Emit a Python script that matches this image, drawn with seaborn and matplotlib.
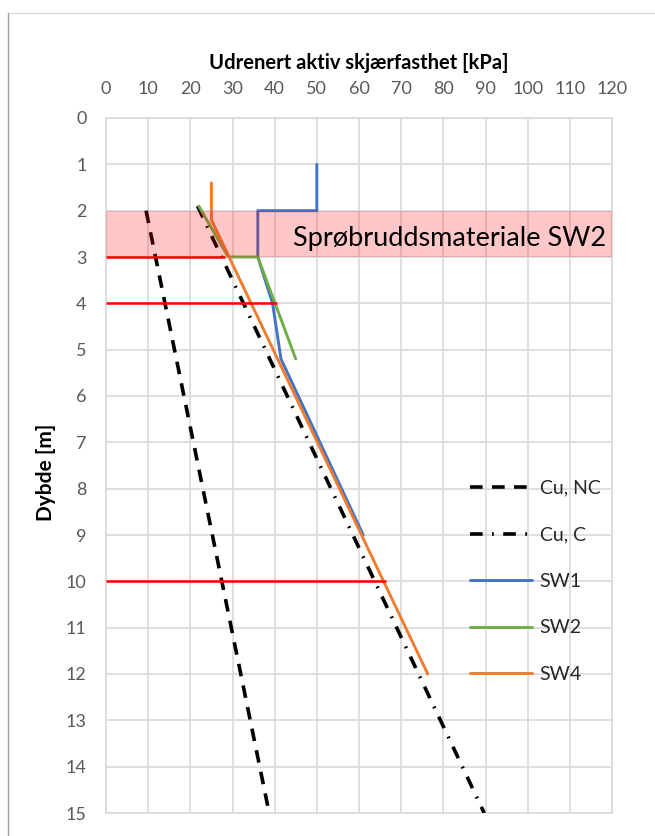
import matplotlib
matplotlib.use("Agg")
import matplotlib.pyplot as plt
import seaborn as sns
import pandas as pd
from matplotlib.lines import Line2D

# ---- data ----
nc_x = [9.5, 38.7]
nc_y = [2.0, 15.0]
c_x = [21.7, 89.7]
c_y = [1.9, 15.0]
sw1_x = [50, 50, 36, 36, 39.5, 41.5, 61]
sw1_y = [1.0, 2.0, 2.0, 3.0, 4.0, 5.2, 9.0]
sw2_x = [22, 29, 36, 45]
sw2_y = [1.9, 3.0, 3.0, 5.2]
sw4_x = [25, 25, 76.3]
sw4_y = [1.4, 2.2, 12.0]
red_depths = [3.0, 4.0, 10.0]
red_ends = [28.3, 40.5, 66.3]
band_top, band_bottom = 2.0, 3.0
band_label = "Sprøbruddsmateriale SW2"
x_ticks = list(range(0, 121, 10))
y_ticks = list(range(0, 16))

sns.set_theme(style="white")
plt.rcParams['font.family'] = ['Lato', 'DejaVu Sans']

fig = plt.figure(figsize=(6.55, 8.36), dpi=100)
ax = fig.add_axes([106/655, 1-813/836, (612-106)/655, (813-118)/836])

# band (semi-transparent overlay above the curves)
ax.axhspan(band_top, band_bottom, color="#ff0000", alpha=0.22, zorder=5, lw=0)
ax.text(44.3, 2.6, band_label, fontsize=19.5, va="center", ha="left", color="black", zorder=7)

# red lines
for d, e in zip(red_depths, red_ends):
    ax.plot([0, e], [d, d], color="#ff0000", lw=1.8, zorder=6, solid_capstyle="butt")

def draw(xs, ys, label, color, lw, dashes=None):
    df = pd.DataFrame({"x": xs, "y": ys})
    sns.lineplot(data=df, x="x", y="y", sort=False, estimator=None, ax=ax,
                 color=color, lw=lw, label=label, zorder=4)
    line = ax.get_lines()[-1]
    if dashes is not None:
        line.set_dashes(dashes)
    return line

l1 = draw(nc_x, nc_y, "Cu, NC", "black", 2.6, (3.5, 2.6))
l2 = draw(c_x, c_y, "Cu, C", "black", 2.6, (3.5, 2.6, 0.5, 2.6))
l3 = draw(sw1_x, sw1_y, "SW1", "#4472c4", 2.1)
l4 = draw(sw2_x, sw2_y, "SW2", "#70ad47", 2.1)
l5 = draw(sw4_x, sw4_y, "SW4", "#ed7d31", 2.1)

ax.set_xlim(0, 120)
ax.set_ylim(15, 0)
ax.set_xticks(x_ticks)
ax.set_yticks(y_ticks)
ax.xaxis.tick_top()
ax.xaxis.set_label_position("top")
ax.grid(True, color="#d9d9d9", lw=1.2, zorder=0)
ax.set_axisbelow(True)
for s in ax.spines.values():
    s.set_color("#d9d9d9")
    s.set_linewidth(1.2)
ax.tick_params(axis="x", length=0, pad=15, labelsize=13, labelcolor="#595959")
ax.tick_params(axis="y", length=0, pad=14, labelsize=13, labelcolor="#595959")
ax.set_xlabel("Udrenert aktiv skjærfasthet [kPa]", fontsize=14.5, fontweight="bold", labelpad=9, color="black")
ax.set_ylabel("Dybde [m]", fontsize=15, fontweight="bold", labelpad=10, color="black")
ax.yaxis.set_label_coords(-0.099, 0.49)

leg = ax.legend(handles=[l1, l2, l3, l4, l5], loc="upper left",
                bbox_to_anchor=((462-106)/506, (118-472)/695 + 1),
                frameon=False, fontsize=14, handlelength=3.2, labelspacing=1.52,
                handletextpad=0.4, borderaxespad=0)

# outer chart border
fig.add_artist(Line2D([8/655, 1], [1-13/836, 1-13/836], color="#d9d9d9", lw=1))
fig.add_artist(Line2D([8/655, 8/655], [0, 1-13/836], color="#a0a0a0", lw=1))

fig.savefig("out.png", dpi=100)
